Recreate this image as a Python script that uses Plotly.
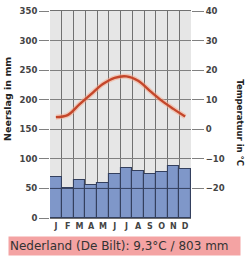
import plotly.graph_objects as go

months = ["J", "F", "M", "A", "M", "J", "J", "A", "S", "O", "N", "D"]
precip_mm = [70, 50, 65, 55, 60, 75, 84, 80, 74, 78, 88, 83]
temp_c = [4.1, 4.8, 8.4, 11.9, 15.3, 17.4, 17.9, 16.4, 13.0, 9.7, 6.9, 4.3]
left_ticks = [0, 50, 100, 150, 200, 250, 300, 350]
right_ticks = [-20, -10, 0, 10, 20, 30, 40]
caption = "Nederland (De Bilt): 9,3°C / 803 mm"

WIDTH, HEIGHT = 248, 267
L, R, T, B = 50, 57, 6, 49
PW, PH = WIDTH - L - R, HEIGHT - T - B


def px_x(px):
    return (px - L) / PW


def px_y(py):
    return (HEIGHT - B - py) / PH


x = list(range(len(months)))
grid_col = "#707070"
lab_font = dict(family="DejaVu Sans", size=8.5, color="#444", weight="bold")

fig = go.Figure()
fig.add_trace(go.Bar(
    x=x, y=precip_mm, width=1,
    marker=dict(color="#7f97c9", line=dict(color="#34405e", width=1.1)),
    yaxis="y", hoverinfo="skip",
))
# soft halo under the temperature curve
fig.add_trace(go.Scatter(
    x=x, y=temp_c, yaxis="y2", mode="lines",
    line=dict(color="rgba(245,170,140,0.55)", width=5, shape="spline", smoothing=1.0),
    hoverinfo="skip",
))
fig.add_trace(go.Scatter(
    x=x, y=temp_c, yaxis="y2", mode="lines",
    line=dict(color="#c4462a", width=2.4, shape="spline", smoothing=1.0),
    hoverinfo="skip",
))

shapes = []
for v in left_ticks:
    if 0 < v < max(precip_mm):
        shapes.append(dict(type="line", xref="paper", x0=0, x1=1, yref="y", y0=v, y1=v,
                           line=dict(color="#34405e", width=1), layer="above"))

annotations = [
    dict(text="Neerslag in mm", textangle=-90, xref="paper", yref="paper",
         x=px_x(8), y=px_y(96), showarrow=False, xanchor="center", yanchor="middle",
         font=dict(family="DejaVu Sans", size=9.5, color="#222", weight="bold")),
    dict(text="Temperatuur in °C", textangle=90, xref="paper", yref="paper",
         x=px_x(240), y=px_y(120), showarrow=False, xanchor="center", yanchor="middle",
         font=dict(family="DejaVu Sans", size=8.5, color="#222", weight="bold")),
    dict(text=caption, xref="paper", yref="paper",
         x=px_x(8), y=px_y(247), showarrow=False, xanchor="left", yanchor="middle",
         width=229, height=16, align="left", bgcolor="#f4a3a3", borderpad=1,
         font=dict(family="DejaVu Sans", size=12, color="#333")),
]

fig.update_layout(
    width=WIDTH, height=HEIGHT,
    margin=dict(l=L, r=R, t=T, b=B, pad=0),
    paper_bgcolor="white", plot_bgcolor="#e6e6e6",
    showlegend=False, bargap=0,
    shapes=shapes, annotations=annotations,
    xaxis=dict(
        range=[-0.5, len(months) - 0.5], tickvals=x, ticktext=months,
        showgrid=False, ticks="", tickfont=dict(family="DejaVu Sans", size=8, color="#444", weight="bold"),
        minor=dict(tickvals=[i - 0.5 for i in range(len(months) + 1)], showgrid=True,
                   gridcolor=grid_col, gridwidth=1.2, ticks=""),
        showline=True, linecolor=grid_col, linewidth=1.2, mirror=True, zeroline=False,
        fixedrange=True,
    ),
    yaxis=dict(
        range=[0, 350], tickvals=left_ticks, showgrid=True, gridcolor="#808080", gridwidth=1,
        ticks="outside", ticklen=10, tickcolor="#808080", tickwidth=1,
        tickfont=lab_font, showline=False, zeroline=False,
    ),
    yaxis2=dict(
        range=[-30, 40], tickvals=right_ticks, overlaying="y", side="right",
        showgrid=False, ticks="outside", ticklen=12, tickcolor="#808080", tickwidth=1,
        tickfont=lab_font, showline=False, zeroline=False,
    ),
)

fig.write_html("out.html")
